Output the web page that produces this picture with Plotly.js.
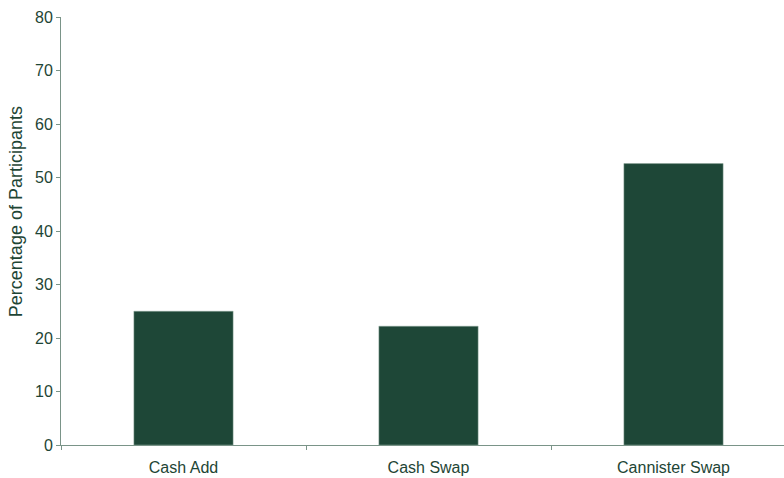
<!DOCTYPE html>
<html>
<head>
<meta charset="utf-8">
<script src="https://cdn.plot.ly/plotly-3.0.1.min.js"></script>
<style>html,body{margin:0;padding:0;background:#fff;}#chart{width:784px;height:478px;}</style>
</head>
<body>
<div id="chart"></div>
<script>
const categories = ["Cash Add", "Cash Swap", "Cannister Swap"];
const percentages = [25.0, 22.2, 52.6];
const yTicks = [0, 10, 20, 30, 40, 50, 60, 70, 80];
const yTitle = "Percentage of Participants";

const textColor = "#1e4535";
const barColor = "#1e4737";
const axisColor = "#7a9488";

Plotly.newPlot("chart", [{
  type: "bar",
  x: categories,
  y: percentages,
  marker: {color: barColor, line: {color: "#8fa89c", width: 0.5}},
  hoverinfo: "skip"
}], {
  width: 784, height: 478,
  margin: {l: 61, r: 0, t: 17, b: 33},
  paper_bgcolor: "#ffffff",
  plot_bgcolor: "#ffffff",
  bargap: 0.595,
  showlegend: false,
  font: {family: "Liberation Sans, Arial, sans-serif", color: textColor, size: 16},
  xaxis: {
    range: [-0.5, 2.451],
    showline: true, linecolor: axisColor, linewidth: 1,
    ticks: "outside", tickson: "boundaries", ticklen: 4, tickcolor: axisColor,
    ticklabelstandoff: 8,
    showgrid: false, zeroline: false,
    tickfont: {size: 16, color: textColor}
  },
  yaxis: {
    range: [0, 80],
    tickvals: yTicks,
    showline: true, linecolor: axisColor, linewidth: 1,
    ticks: "outside", ticklen: 4, tickcolor: axisColor,
    showgrid: false, zeroline: false,
    tickfont: {size: 16, color: textColor}
  },
  annotations: [{
    text: yTitle,
    xref: "paper", yref: "paper",
    x: 0, xshift: -45, xanchor: "center",
    y: 0.544, yanchor: "middle",
    textangle: -90,
    showarrow: false,
    font: {size: 18, color: textColor}
  }]
}, {staticPlot: true});
</script>
</body>
</html>
